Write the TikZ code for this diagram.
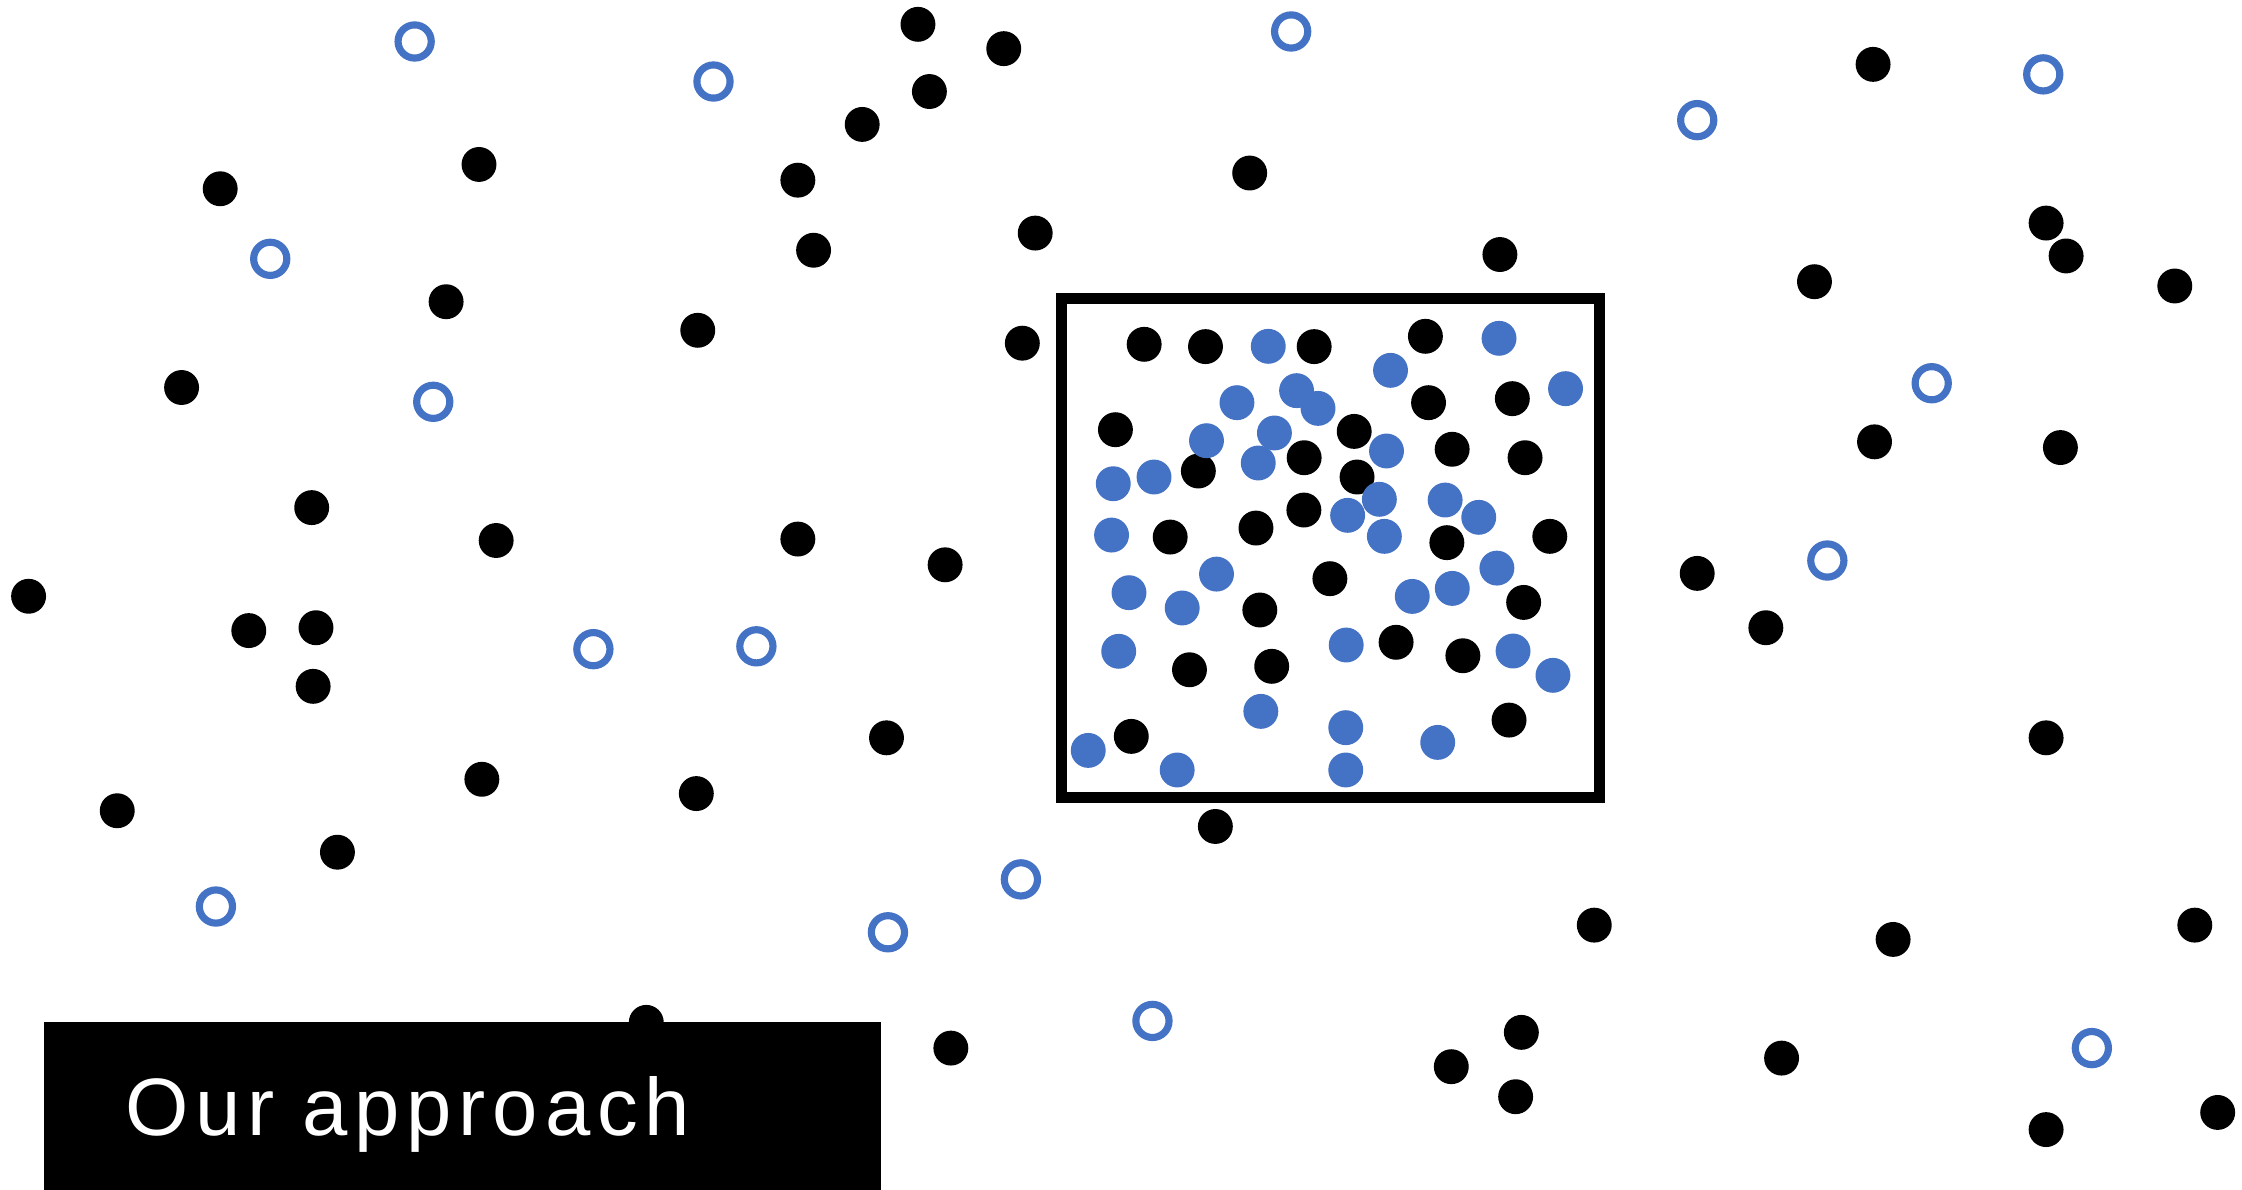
\documentclass[tikz,border=0pt]{standalone}
\usepackage{fontspec}
\newfontfamily\tagfont{Liberation Sans}[LetterSpace=8.5]
\definecolor{pb}{HTML}{4472C4}
\tikzset{
  bdot/.style={
    circle, draw=none, fill=black,
    minimum size=0.244cm, inner sep=0pt
  },
  pdot/.style={bdot, fill=pb},
  hdot/.style={
    circle, draw=pb, fill=white, line width=0.05cm,
    minimum size=0.232cm, inner sep=0pt
  },
  zone/.style={draw=black, line width=0.08cm},
  tagbox/.style={
    rectangle, draw=none, fill=black, text=white,
    font=\tagfont\fontsize{16.2}{19}\selectfont,
    minimum width=5.85cm, minimum height=1.18cm,
    text width=4.71cm, inner xsep=0.57cm, inner ysep=0pt,
    text depth=0pt, align=left
  }
}

\begin{document}
\begin{tikzpicture}[x=0.01cm, y=-0.01cm]
\useasboundingbox (0,0) rectangle (1568,832);

\foreach [count=\i] \x/\y in {642/17, 702/34, 650/64, 603/87, 335/115,
    154/132, 558/126, 874/121, 724/163, 569/175, 1049/178, 312/211,
    488/231, 715/240, 127/271, 1310/45, 1431/156, 1445/179, 1269/197,
    1521/200, 1311/309, 1441/313, 218/355, 347/378, 558/377, 661/395,
    20/417, 174/441, 221/439, 219/480, 1187/401, 1235/439, 620/516,
    1431/516, 337/545, 487/555, 82/567, 236/596, 850/578, 1115/647,
    1324/657, 1535/647, 452/715, 665/733, 1064/722, 1015/746, 1060/767,
    1246/740, 1431/790, 1551/778}
  \node[bdot] (out\i) at (\x,\y) {};

\foreach [count=\i] \x/\y in {290/29, 499/57, 903/22, 1187/84, 1429/52,
    189/181, 303/281, 1351/268, 1278/392, 415/454, 529/452, 151/634,
    714/615, 621/652, 806/714, 1463/733}
  \node[hdot] (hol\i) at (\x,\y) {};

\draw[zone] (742.4,208.8) rectangle (1118.5,557.7);

\foreach [count=\i] \x/\y in {800.2/240.8, 843.1/242.4, 919.1/242.4,
    996.9/235.2, 999.1/281.6, 1057.7/278.8, 780.1/300.5, 947.1/301.7,
    1015.6/314.2, 1066.6/320.1, 838.1/329.4, 912.1/320.1, 949.1/333.6,
    911.9/356.7, 878.4/369.3, 818.4/375.6, 1011.9/379.5, 1083.9/375.1,
    930.1/404.7, 1065.6/421.3, 881.1/426.6, 976.4/449.2, 1023.1/458.6,
    831.9/468.4, 889.4/466.0, 791.2/515.0, 1055.4/503.6}
  \node[bdot] (in\i) at (\x,\y) {};

\foreach [count=\i] \x/\y in {887.0/242.2, 1048.4/236.6, 972.5/259.0,
    1094.9/271.8, 865.1/281.6, 906.8/273.2, 921.8/285.6, 891.3/302.8,
    843.8/308.2, 969.7/315.4, 880.0/323.8, 807.1/333.6, 778.6/338.3,
    964.7/349.2, 942.5/360.4, 1010.7/349.7, 1034.2/361.8, 968.2/375.1,
    777.4/374.2, 850.8/401.5, 1046.9/397.3, 1015.7/411.5, 987.7/417.1,
    789.6/414.5, 826.8/425.2, 941.5/451.1, 1058.2/455.3, 1086.1/472.3,
    782.4/455.5, 881.8/497.5, 941.2/508.9, 1005.5/519.2, 761.1/524.8,
    823.3/538.5, 941.2/538.5}
  \node[pdot] (pos\i) at (\x,\y) {};

\node[tagbox, anchor=north west] (tag) at (30,714) {Our approach};

\end{tikzpicture}
\end{document}
